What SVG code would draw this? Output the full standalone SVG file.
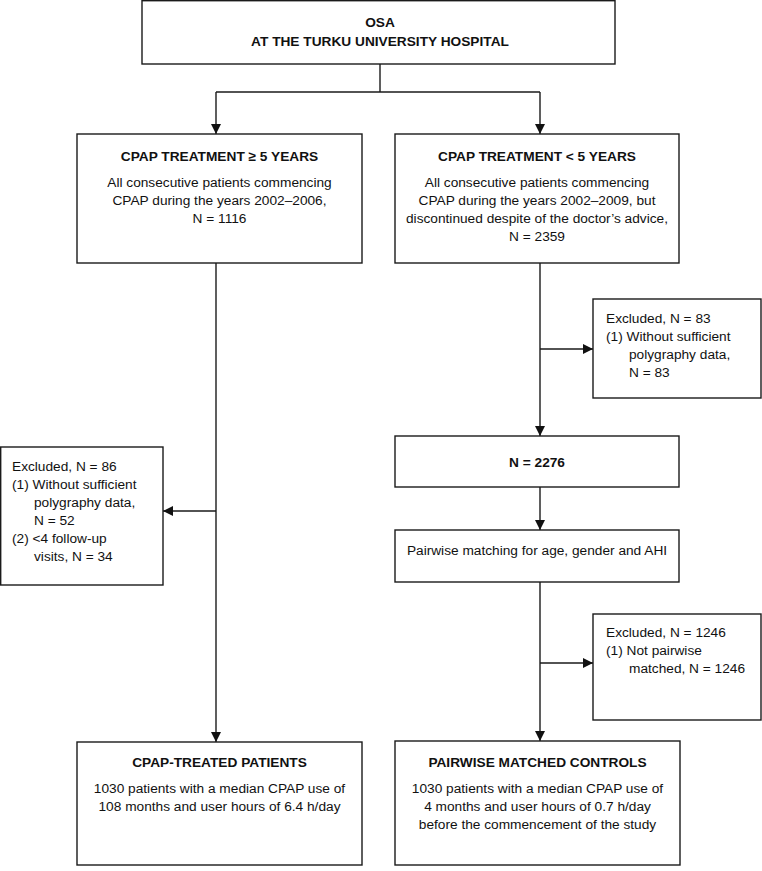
<svg xmlns="http://www.w3.org/2000/svg" width="762" height="871" viewBox="0 0 762 871">
<style>
.box{fill:#fff;stroke:#1a1a1a;stroke-width:1.4}
text{font-family:"Liberation Sans",Arial,sans-serif;font-size:13.7px;fill:#111}
.b{font-weight:bold}
.c{text-anchor:middle}
.ln{stroke:#1a1a1a;stroke-width:1.4;fill:none}
</style>
<defs>
<marker id="ah" markerUnits="userSpaceOnUse" markerWidth="10" markerHeight="10" refX="10" refY="5" orient="auto">
<path d="M0,0 L10,5 L0,10 z" fill="#111"/>
</marker>
</defs>
<rect width="762" height="871" fill="#fff"/>
<g id="connectors">
<line class="ln" x1="380" y1="64" x2="380" y2="92"/>
<line class="ln" x1="216" y1="92" x2="540" y2="92"/>
<line class="ln" x1="216" y1="92" x2="216" y2="134" marker-end="url(#ah)"/>
<line class="ln" x1="540" y1="92" x2="540" y2="134" marker-end="url(#ah)"/>
<line class="ln" x1="216" y1="263" x2="216" y2="742" marker-end="url(#ah)"/>
<line class="ln" x1="216" y1="511" x2="163" y2="511" marker-end="url(#ah)"/>
<line class="ln" x1="540" y1="263" x2="540" y2="436" marker-end="url(#ah)"/>
<line class="ln" x1="540" y1="349" x2="593" y2="349" marker-end="url(#ah)"/>
<line class="ln" x1="540" y1="487" x2="540" y2="530" marker-end="url(#ah)"/>
<line class="ln" x1="540" y1="582" x2="540" y2="741" marker-end="url(#ah)"/>
<line class="ln" x1="540" y1="663" x2="593" y2="663" marker-end="url(#ah)"/>
</g>
<g id="osa">
<rect class="box" x="142" y="0.7" width="473" height="63.3"/>
<text class="b c" x="380" y="27">OSA</text>
<text class="b c" x="380" y="46">AT THE TURKU UNIVERSITY HOSPITAL</text>
</g>
<g id="cpap-ge5">
<rect class="box" x="77" y="134" width="285" height="129"/>
<text class="b c" x="219.5" y="161">CPAP TREATMENT ≥ 5 YEARS</text>
<text class="c" x="219.5" y="187">All consecutive patients commencing</text>
<text class="c" x="219.5" y="205">CPAP during the years 2002–2006,</text>
<text class="c" x="219.5" y="223">N = 1116</text>
</g>
<g id="cpap-lt5">
<rect class="box" x="395" y="134" width="284" height="129"/>
<text class="b c" x="537" y="161">CPAP TREATMENT &lt; 5 YEARS</text>
<text class="c" x="537" y="187">All consecutive patients commencing</text>
<text class="c" x="537" y="205">CPAP during the years 2002–2009, but</text>
<text class="c" x="537" y="223">discontinued despite of the doctor’s advice,</text>
<text class="c" x="537" y="241">N = 2359</text>
</g>
<g id="excluded-83">
<rect class="box" x="593" y="299" width="168" height="99"/>
<text x="606" y="323">Excluded, N = 83</text>
<text x="606" y="341">(1) Without sufficient</text>
<text x="629" y="359">polygraphy data,</text>
<text x="629" y="377">N = 83</text>
</g>
<g id="excluded-86">
<rect class="box" x="0.7" y="447" width="162.3" height="138"/>
<text x="12" y="471">Excluded, N = 86</text>
<text x="12" y="489">(1) Without sufficient</text>
<text x="34" y="507">polygraphy data,</text>
<text x="34" y="525">N = 52</text>
<text x="12" y="543">(2) &lt;4 follow-up</text>
<text x="34" y="561">visits, N = 34</text>
</g>
<g id="n2276">
<rect class="box" x="395" y="436" width="284" height="51"/>
<text class="b c" x="537" y="467">N = 2276</text>
</g>
<g id="matching">
<rect class="box" x="395" y="530" width="284" height="52"/>
<text class="c" x="537" y="555">Pairwise matching for age, gender and AHI</text>
</g>
<g id="excluded-1246">
<rect class="box" x="593" y="614" width="168" height="106"/>
<text x="606" y="637">Excluded, N = 1246</text>
<text x="606" y="655">(1) Not pairwise</text>
<text x="629" y="673">matched, N = 1246</text>
</g>
<g id="treated">
<rect class="box" x="77" y="742" width="285" height="123"/>
<text class="b c" x="219.5" y="767">CPAP-TREATED PATIENTS</text>
<text class="c" x="219.5" y="793">1030 patients with a median CPAP use of</text>
<text class="c" x="219.5" y="811">108 months and user hours of 6.4 h/day</text>
</g>
<g id="controls">
<rect class="box" x="395" y="741" width="285" height="124"/>
<text class="b c" x="537.5" y="767">PAIRWISE MATCHED CONTROLS</text>
<text class="c" x="537.5" y="793">1030 patients with a median CPAP use of</text>
<text class="c" x="537.5" y="811">4 months and user hours of 0.7 h/day</text>
<text class="c" x="537.5" y="829">before the commencement of the study</text>
</g>
</svg>
